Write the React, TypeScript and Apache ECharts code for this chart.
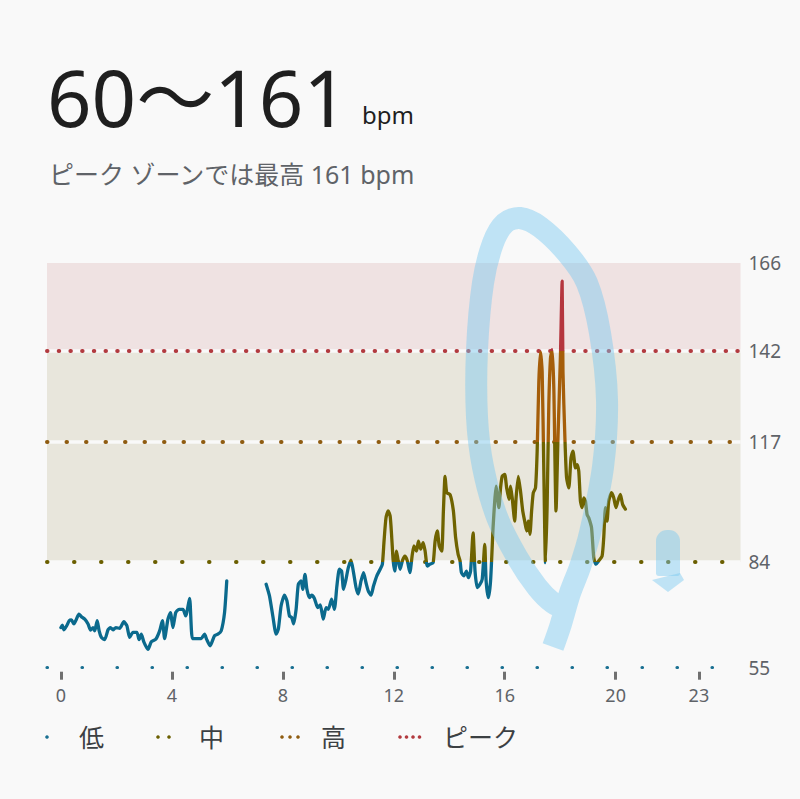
import React, { useEffect, useRef } from "react";
import * as echarts from "echarts";

// ---- data ----
const times: number[] = [
  0.0, 0.05, 0.11, 0.21, 0.3, 0.38, 0.47, 0.56, 0.65, 0.74, 0.86, 0.98, 1.07, 1.16, 1.22, 1.31, 1.38, 1.46, 1.58, 1.7,
  1.79, 1.88, 1.98, 2.12, 2.27, 2.38, 2.48, 2.6, 2.74, 2.82, 2.9, 2.99, 3.14, 3.26, 3.42, 3.56, 3.66, 3.74, 3.86, 3.95,
  4.04, 4.14, 4.26, 4.4, 4.5, 4.64, 4.74, 4.88, 5.06, 5.18, 5.26, 5.38, 5.54, 5.66, 5.78, 5.9, 5.98,
  6.7,
  7.4, 7.52, 7.64, 7.76, 7.84, 7.94, 8.06, 8.15, 8.24, 8.32, 8.39, 8.48, 8.56, 8.66, 8.72, 8.8, 8.87, 8.96, 9.04, 9.14,
  9.26, 9.35, 9.46, 9.56, 9.64, 9.76, 9.86, 9.95, 10.04, 10.12, 10.19, 10.28, 10.36, 10.46, 10.55, 10.64, 10.72, 10.82,
  10.91, 11.0, 11.08, 11.18, 11.27, 11.39, 11.51, 11.59,
  11.65, 11.72, 11.8, 11.87, 11.92, 11.98, 12.04, 12.1, 12.16, 12.23, 12.31, 12.4, 12.49, 12.58, 12.67, 12.73, 12.82,
  12.89, 12.97, 13.06, 13.13, 13.21, 13.31, 13.42, 13.49, 13.57, 13.64, 13.73, 13.79, 13.85, 13.91, 14.03, 14.15, 14.23,
  14.32, 14.39, 14.44, 14.53, 14.62, 14.69, 14.77, 14.86, 14.93, 15.01, 15.11, 15.19, 15.28, 15.33, 15.41, 15.49, 15.58,
  15.64, 15.69, 15.73, 15.79, 15.85, 15.91, 16.0, 16.07, 16.15, 16.21, 16.27, 16.36, 16.41, 16.49, 16.57, 16.65, 16.72,
  16.79, 16.85, 16.91, 16.97, 17.03, 17.11, 17.17, 17.23, 17.29, 17.35, 17.41, 17.47, 17.53, 17.59, 17.65, 17.71, 17.77,
  17.85, 17.92, 18.01, 18.07, 18.1, 18.17, 18.23, 18.31, 18.39, 18.46, 18.55, 18.61, 18.67, 18.73, 18.79, 18.85, 18.91,
  18.97, 19.03, 19.13, 19.21, 19.29, 19.39, 19.51, 19.57, 19.63, 19.69, 19.75, 19.85, 19.93, 20.01, 20.08, 20.17, 20.25,
  20.35,
];

const bpm: (number | null)[] = [
  66.0, 66.7, 65.4, 66.5, 67.9, 68.1, 67.0, 68.3, 69.7, 69.0, 68.3, 67.0, 65.3, 66.0, 65.1, 67.9, 65.1, 63.3, 62.7, 65.4,
  66.0, 65.4, 66.0, 65.8, 67.6, 66.5, 63.3, 64.7, 64.7, 62.7, 64.2, 62.1, 60.0, 62.1, 62.8, 65.1, 67.9, 63.0, 68.3, 70.1,
  66.0, 70.1, 71.0, 71.0, 69.2, 74.0, 63.0, 63.0, 63.0, 64.2, 62.7, 61.0, 63.8, 64.2, 65.1, 70.1, 78.8,
  null,
  77.9, 74.7, 69.2, 64.2, 65.6, 72.0, 74.9, 73.3, 69.2, 68.8, 67.0, 71.0, 77.9, 78.8, 76.5, 80.6, 76.5, 74.2, 74.9, 74.0,
  71.5, 72.2, 68.3, 71.5, 71.0, 73.8, 71.0, 77.4, 82.0, 81.5, 76.5, 79.3, 82.4, 84.5, 81.1, 77.0, 75.2, 78.8,
  81.1, 78.3, 76.1, 74.9, 77.4, 80.2, 82.0, 83.4,
  89.7, 96.1, 98.0, 96.6, 91.6, 84.3, 81.5, 87.0, 84.3, 82.0, 84.3, 85.6, 84.3, 81.1, 86.1, 88.4, 87.0,
  89.7, 87.5, 89.3, 87.0, 82.9, 83.4, 83.8, 89.7, 92.5, 88.4, 87.0, 98.0, 107.5, 103.0, 102.5, 98.0, 90.7,
  86.1, 84.3, 81.1, 80.2, 81.5, 79.7, 81.5, 92.0, 81.5, 77.0, 77.9, 79.3, 88.8, 78.8, 74.2, 78.8, 93.4,
  100.7, 104.8, 102.5, 98.9, 104.3, 107.5, 108.0, 104.3, 101.2, 104.8, 101.6, 95.2, 101.6, 107.5, 103.4, 98.0, 95.2,
  92.5, 95.2, 91.6, 98.0, 103.0, 104.3, 114.4, 133.5, 141.7, 136.2, 108.9, 83.8, 99.8, 127.1, 139.9, 142.2, 131.7,
  98.0, 118.0, 140.8, 161.0, 136.2, 118.0, 107.1, 104.3, 112.5, 114.4, 109.8, 110.7, 108.9, 100.7, 98.9, 101.6, 100.7,
  97.0, 96.1, 93.4, 85.2, 83.4, 84.3, 85.6, 90.7, 98.9, 95.2, 100.7, 103.0, 101.6, 98.9, 100.7, 102.5, 99.8,
  98.5,
];

const xTicks = [0, 4, 8, 12, 16, 20, 23];
const yTicks = [55, 84, 117, 142, 166];
const zoneLimits = [55, 84, 117, 142];
const zoneNames = ["低", "中", "高", "ピーク"];
const yMin = 55;
const yMax = 166;
const titleText = "60〜161";
const unitText = "bpm";
const subtitleText = "ピーク ゾーンでは最高 161 bpm";

// ---- styles ----
const zoneColors = ["#0b6a8d", "#6f6300", "#a55e0a", "#b5363e"];
const dotColors = ["#1a7092", "#6b5f00", "#8f5c10", "#b23a3f"];
const dotGaps = [34.5, 26.5, 19, 11.2];
const bg = "#f9f9f9";
const latin = "'Noto Sans', 'Noto Sans CJK JP', sans-serif";
const hl = "rgba(120,200,240,0.45)";

export default function App() {
  const ref = useRef<HTMLDivElement>(null);

  useEffect(() => {
    const chart = echarts.init(ref.current!, null, { renderer: "svg" });
    const data = times.map((t, i) => [t, bpm[i]]);

    const legendX = [47, 158, 282, 400];
    const legendDots = [
      [0],
      [0, 11],
      [0, 8, 16],
      [0, 6.5, 13, 19.5],
    ];
    const legendTextX = [79, 199, 321, 443];
    const legendGraphics: any[] = [];
    zoneNames.forEach((name, i) => {
      legendDots[i].forEach((dx) => {
        legendGraphics.push({
          type: "circle",
          shape: { cx: legendX[i] + dx, cy: 737, r: 1.8 },
          style: { fill: dotColors[i] },
        });
      });
      legendGraphics.push({
        type: "text",
        x: legendTextX[i],
        y: 737,
        style: {
          text: name,
          fontSize: 25,
          fontFamily: latin,
          fill: "#3c4043",
          verticalAlign: "middle",
          align: "left",
        },
      });
    });

    const option: any = {
      animation: false,
      backgroundColor: bg,
      grid: { left: 47, right: 59.5, top: 263, bottom: 131.3 },
      xAxis: {
        type: "value",
        min: -0.5,
        max: 24.5,
        offset: 4,
        axisLine: { show: false },
        splitLine: { show: false },
        axisTick: {
          show: true,
          customValues: xTicks,
          length: 8,
          lineStyle: { color: "#707070", width: 3 },
        },
        axisLabel: {
          customValues: xTicks,
          color: "#5f6368",
          fontSize: 18,
          fontFamily: latin,
          margin: 14,
        },
      },
      yAxis: {
        type: "value",
        position: "right",
        min: yMin,
        max: yMax,
        axisLine: { show: false },
        axisTick: { show: false },
        splitLine: { show: false },
        axisLabel: {
          customValues: yTicks,
          color: "#5f6368",
          fontSize: 19,
          fontFamily: latin,
          margin: 8,
        },
      },
      visualMap: {
        type: "piecewise",
        show: false,
        dimension: 1,
        seriesIndex: 0,
        pieces: [
          { lt: 84, color: zoneColors[0] },
          { gte: 84, lt: 117, color: zoneColors[1] },
          { gte: 117, lt: 142, color: zoneColors[2] },
          { gte: 142, color: zoneColors[3] },
        ],
      },
      series: [
        {
          type: "line",
          name: "心拍数",
          data,
          z: 5,
          symbol: "none",
          smooth: 0.2,
          connectNulls: false,
          lineStyle: { width: 3.3, join: "round", cap: "round" },
          silent: true,
        },
        {
          type: "line",
          name: "bands",
          data: [],
          z: 1,
          silent: true,
          markArea: {
            silent: true,
            itemStyle: { color: "#e8e6dc" },
            data: [
              [{ yAxis: 84, itemStyle: { color: "#e8e6dc" } }, { yAxis: 142 }],
              [{ yAxis: 142, itemStyle: { color: "#efe2e2" } }, { yAxis: 166 }],
            ],
          },
          markLine: {
            silent: true,
            symbol: ["none", "none"],
            label: { show: false },
            lineStyle: { color: bg, width: 3.5, type: "solid" },
            data: [{ yAxis: 84 }, { yAxis: 117 }, { yAxis: 142 }],
          },
        },
        {
          type: "line",
          name: "dots",
          data: [],
          z: 3,
          silent: true,
          markLine: {
            silent: true,
            symbol: ["none", "none"],
            label: { show: false },
            data: zoneLimits.map((v, i) => ({
              yAxis: v,
              lineStyle: {
                color: dotColors[i],
                width: i === 0 ? 3.2 : 4,
                type: [0.5, dotGaps[i]],
                cap: "round",
              },
            })),
          },
        },
      ],
      graphic: [
        {
          type: "text",
          x: 47,
          y: 97,
          style: {
            text: titleText,
            fontSize: 78,
            fontFamily: latin,
            fill: "#1f1f1f",
            verticalAlign: "middle",
            align: "left",
          },
        },
        {
          type: "text",
          x: 362,
          y: 114,
          style: {
            text: unitText,
            fontSize: 24,
            fontFamily: latin,
            fill: "#1f1f1f",
            verticalAlign: "middle",
            align: "left",
          },
        },
        {
          type: "text",
          x: 49,
          y: 174,
          style: {
            text: subtitleText,
            fontSize: 25,
            fontFamily: latin,
            fill: "#5f6368",
            verticalAlign: "middle",
            align: "left",
          },
        },
        ...legendGraphics,
        {
          type: "polyline",
          z: 100,
          shape: {
            points: [
              [553, 647], [560, 627], [570, 593], [580, 567], [590, 533], [603, 467], [607, 400],
              [600, 333], [587, 283], [567, 253], [540, 227], [520, 218], [505, 223], [493, 243],
              [483, 283], [477, 350], [477, 417], [483, 467], [497, 517], [517, 557], [537, 587],
              [553, 603], [568, 610],
            ],
            smooth: 0.3,
          },
          style: { stroke: hl, lineWidth: 22, fill: "none", lineCap: "butt", lineJoin: "round" },
        },
        {
          type: "rect",
          z: 100,
          shape: { x: 656, y: 530, width: 24, height: 46, r: [11, 11, 3, 3] },
          style: { fill: hl },
        },
        {
          type: "polygon",
          z: 100,
          shape: { points: [[652, 580], [680, 573], [684, 580], [668, 592]] },
          style: { fill: hl },
        },
      ],
    };

    chart.setOption(option);
    return () => chart.dispose();
  }, []);

  return (
    <div
      ref={ref}
      style={{ position: "fixed", left: 0, top: 0, width: 800, height: 799, background: bg }}
    />
  );
}
